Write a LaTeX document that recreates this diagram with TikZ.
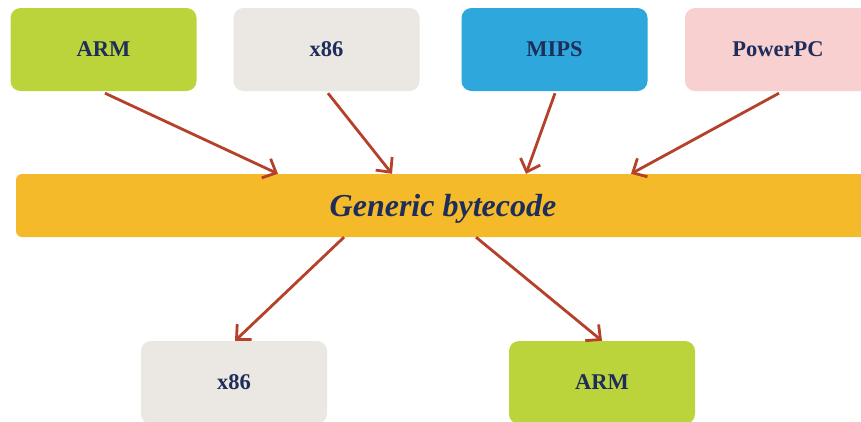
\documentclass[tikz,border=0pt]{standalone}
\usepackage{fontspec}
\setmainfont{Liberation Serif}
\usetikzlibrary{arrows.meta}
\definecolor{armgreen}{HTML}{BBD43B}
\definecolor{beige}{HTML}{EBE7E2}
\definecolor{mipsblue}{HTML}{2EA7DC}
\definecolor{pink}{HTML}{F8D0D0}
\definecolor{baryellow}{HTML}{F5BA2A}
\definecolor{navy}{HTML}{1F2D5A}
\definecolor{rust}{HTML}{B5412A}
\tikzset{
  archbox/.style={rounded corners=10pt, minimum width=186pt, minimum height=83pt, inner sep=0pt,
    text=navy, font=\fontsize{22.5}{26}\selectfont\bfseries},
  conn/.style={draw=rust, line width=2.8pt, -{Straight Barb[length=11pt,width=21pt,line width=2.8pt]}},
}
\begin{document}
\begin{tikzpicture}[x=1pt,y=-1pt]
\clip (0,0) rectangle (861,421);
\fill[white] (0,0) rectangle (861,421);
\node[archbox, fill=armgreen] (armT) at (103.5,49.5) {ARM};
\node[archbox, fill=beige] (x86T) at (326.5,49.5) {x86};
\node[archbox, fill=mipsblue] (mipsT) at (554.5,49.5) {MIPS};
\node[archbox, fill=pink] (ppcT) at (778,49.5) {PowerPC};
\node[rounded corners=6pt, fill=baryellow, minimum width=854pt, minimum height=63pt, inner sep=0pt] (bar) at (443,205.5) {};
\node[text=navy, font=\fontsize{32}{36}\selectfont\bfseries\itshape, inner sep=0pt] (bartext) at ([yshift=-3pt]bar.center) {Generic bytecode};
\node[archbox, fill=beige] (x86B) at (234,382.5) {x86};
\node[archbox, fill=armgreen] (armB) at (602,382.5) {ARM};
\draw[conn] ([xshift=1.5pt,yshift=-2pt]armT.south) -- ([xshift=-165pt]bar.north);
\draw[conn] ([xshift=1.5pt,yshift=-2pt]x86T.south) -- ([xshift=-51pt]bar.north);
\draw[conn] ([xshift=0.5pt,yshift=-2pt]mipsT.south) -- ([xshift=83pt]bar.north);
\draw[conn] ([xshift=1pt,yshift=-2pt]ppcT.south) -- ([xshift=188pt]bar.north);
\draw[conn] ([xshift=-99pt]bar.south) -- ([xshift=1pt]x86B.north);
\draw[conn] ([xshift=33pt]bar.south) -- ([xshift=0pt]armB.north);
\end{tikzpicture}
\end{document}
